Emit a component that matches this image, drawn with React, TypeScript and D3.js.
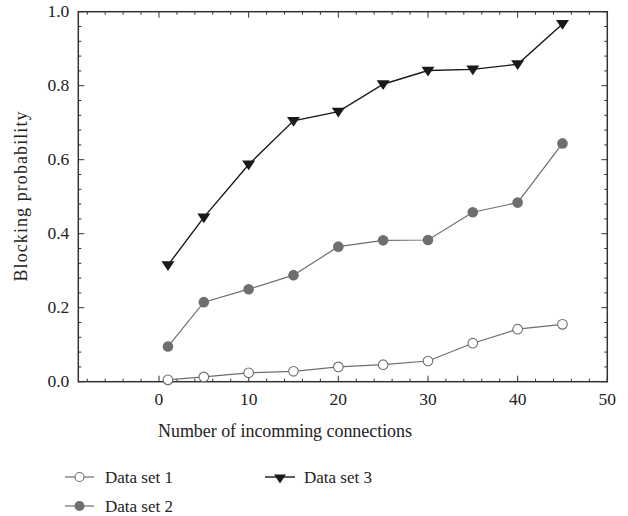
import React from "react";
import * as d3 from "d3";

const xValues = [1, 5, 10, 15, 20, 25, 30, 35, 40, 45];
const set1 = [0.005, 0.013, 0.024, 0.028, 0.04, 0.046, 0.056, 0.104, 0.142, 0.155];
const set2 = [0.095, 0.215, 0.25, 0.288, 0.365, 0.382, 0.383, 0.458, 0.484, 0.644];
const set3 = [0.315, 0.444, 0.587, 0.705, 0.73, 0.804, 0.841, 0.844, 0.858, 0.967];
const xTicks = [0, 10, 20, 30, 40, 50];
const yTicks = [0, 0.2, 0.4, 0.6, 0.8, 1.0];
const seriesNames = ["Data set 1", "Data set 2", "Data set 3"];

const W = 628, H = 516;
const L = 78.3, R = 607.3, T = 11.7, B = 381.7;
const FONT = "'Liberation Serif', 'Times New Roman', serif";

export default function App() {
  const x = d3.scaleLinear().domain([-9, 50]).range([L, R]);
  const y = d3.scaleLinear().domain([0, 1]).range([B, T]);
  const line = d3.line<[number, number]>().x(d => x(d[0])).y(d => y(d[1]));
  const pts = (s: number[]) => xValues.map((v, i) => [v, s[i]] as [number, number]);

  const xMinor = d3.range(-8, 50.01, 2).filter(v => v % 10 !== 0);
  const yMinor = d3.range(0, 1.0001, 0.04).map(v => +v.toFixed(2)).filter(v => Math.abs(v * 5 - Math.round(v * 5)) > 1e-6);
  const axisCol = "#333";
  const c1 = "#6e6e70", c2 = "#6e6e70", c3 = "#1a1a1a";

  const tri = (cx: number, cy: number, s = 6.5) =>
    `M${cx - s},${cy - s * 0.6}L${cx + s},${cy - s * 0.6}L${cx},${cy + s * 0.9}Z`;

  return (
    <svg width={W} height={H} style={{ position: "absolute", left: 0, top: 0 }}>
      <rect width={W} height={H} fill="#fff" />
      {/* ticks */}
      <g stroke={axisCol} strokeWidth={1}>
        {xTicks.map(t => (
          <g key={"xt" + t}>
            <line x1={x(t)} x2={x(t)} y1={B} y2={B - 6} />
            <line x1={x(t)} x2={x(t)} y1={T} y2={T + 6} />
          </g>
        ))}
        {xMinor.map(t => (
          <g key={"xm" + t}>
            <line x1={x(t)} x2={x(t)} y1={B} y2={B - 3} />
            <line x1={x(t)} x2={x(t)} y1={T} y2={T + 3} />
          </g>
        ))}
        {yTicks.map(t => (
          <g key={"yt" + t}>
            <line x1={L} x2={L + 6} y1={y(t)} y2={y(t)} />
            <line x1={R} x2={R - 6} y1={y(t)} y2={y(t)} />
          </g>
        ))}
        {yMinor.map(t => (
          <g key={"ym" + t}>
            <line x1={L} x2={L + 3} y1={y(t)} y2={y(t)} />
            <line x1={R} x2={R - 3} y1={y(t)} y2={y(t)} />
          </g>
        ))}
      </g>
      <rect x={L} y={T} width={R - L} height={B - T} fill="none" stroke={axisCol} strokeWidth={1.5} />
      {/* tick labels */}
      <g fontFamily={FONT} fontSize={17.5} fill="#222">
        {xTicks.map(t => (
          <text key={"xl" + t} x={x(t)} y={405} textAnchor="middle">{t}</text>
        ))}
        {yTicks.map(t => (
          <text key={"yl" + t} x={L - 9} y={y(t) + 5.5} textAnchor="end">{t.toFixed(1)}</text>
        ))}
      </g>
      <text x={285} y={437} textAnchor="middle" fontFamily={FONT} fontSize={18} fill="#222"
        textLength={254} lengthAdjust="spacing">
        Number of incomming connections
      </text>
      <text transform={`translate(27,196.5) rotate(-90)`} textAnchor="middle" fontFamily={FONT} fontSize={18} fill="#222"
        textLength={170} lengthAdjust="spacing">
        Blocking probability
      </text>
      {/* series */}
      <path d={line(pts(set1)) || ""} fill="none" stroke={c1} strokeWidth={1.2} />
      <path d={line(pts(set2)) || ""} fill="none" stroke={c2} strokeWidth={1.2} />
      <path d={line(pts(set3)) || ""} fill="none" stroke={c3} strokeWidth={1.4} />
      {pts(set1).map((p, i) => (
        <circle key={"a" + i} cx={x(p[0])} cy={y(p[1])} r={4.8} fill="#fff" stroke={c1} strokeWidth={1.1} />
      ))}
      {pts(set2).map((p, i) => (
        <circle key={"b" + i} cx={x(p[0])} cy={y(p[1])} r={5.3} fill={c2} />
      ))}
      {pts(set3).map((p, i) => (
        <path key={"c" + i} d={tri(x(p[0]), y(p[1]))} fill={c3} />
      ))}
      {/* legend */}
      <g fontFamily={FONT} fontSize={17} fill="#222">
        <line x1={65} x2={94} y1={477} y2={477} stroke={c1} strokeWidth={1.2} />
        <circle cx={79.5} cy={477} r={4.5} fill="#fff" stroke={c1} strokeWidth={1.1} />
        <text x={105} y={483} textLength={68} lengthAdjust="spacing">{seriesNames[0]}</text>
        <line x1={65} x2={94} y1={506} y2={506} stroke={c2} strokeWidth={1.2} />
        <circle cx={79.5} cy={506} r={5} fill={c2} />
        <text x={105} y={512} textLength={68} lengthAdjust="spacing">{seriesNames[1]}</text>
        <line x1={265} x2={295} y1={477} y2={477} stroke={c3} strokeWidth={1.4} />
        <path d={tri(280, 478, 6)} fill={c3} />
        <text x={304} y={483} textLength={68} lengthAdjust="spacing">{seriesNames[2]}</text>
      </g>
    </svg>
  );
}
